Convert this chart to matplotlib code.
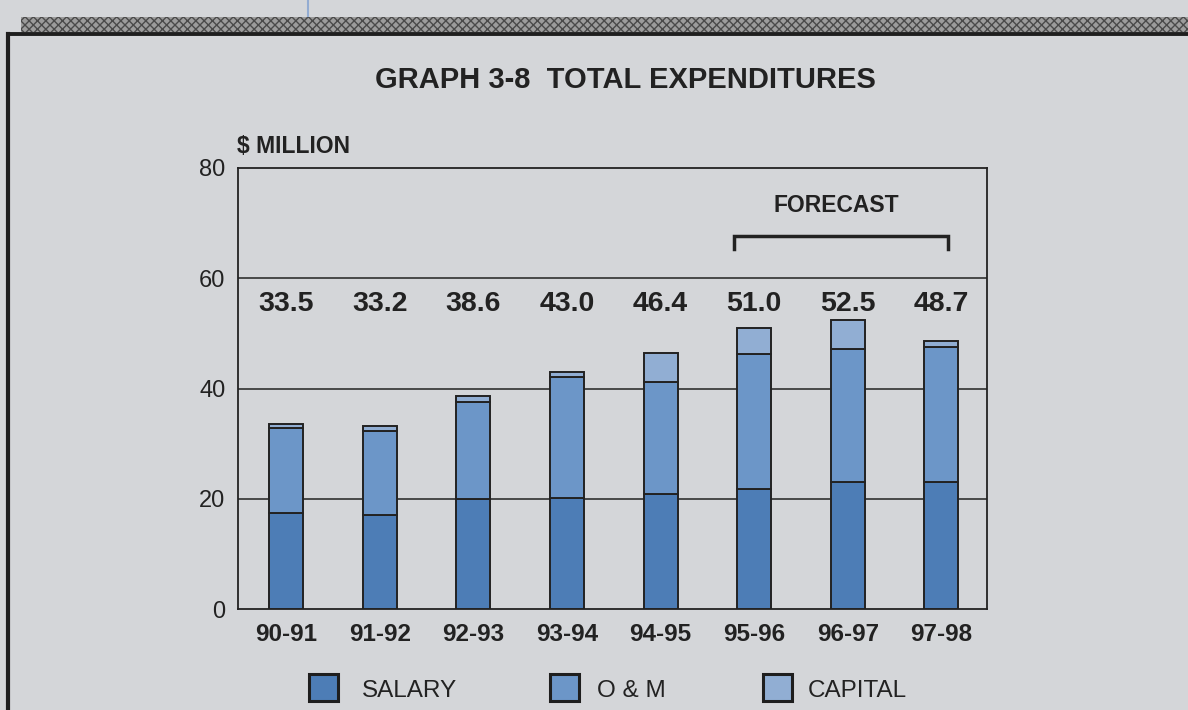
#!/usr/bin/env python3
"""Graph 3-8 total expenditures: stacked bars, salary / O&M / capital."""
import matplotlib

matplotlib.use("Agg")
import matplotlib.pyplot as plt
from matplotlib.patches import Rectangle
from matplotlib.lines import Line2D

plt.rcParams["font.family"] = ["Liberation Sans", "DejaVu Sans"]

# data ($ million)
years = ["90-91", "91-92", "92-93", "93-94", "94-95", "95-96", "96-97", "97-98"]
salary = [17.4, 17.1, 20.0, 20.2, 20.9, 21.7, 23.0, 23.0]
o_and_m = [15.4, 15.1, 17.6, 21.9, 20.3, 24.5, 24.2, 24.5]
capital = [0.7, 1.0, 1.0, 0.9, 5.2, 4.8, 5.3, 1.2]
totals = [33.5, 33.2, 38.6, 43.0, 46.4, 51.0, 52.5, 48.7]
forecast_years = ["95-96", "96-97", "97-98"]
series_names = ["SALARY", "O & M", "CAPITAL"]
yticks = [0, 20, 40, 60, 80]

BG = "#d4d6d9"
INK = "#222222"
colors = ["#4d7db6", "#6c96c8", "#91aed3"]

W, H = 1188, 710
fig = plt.figure(figsize=(W / 100, H / 100), dpi=100, facecolor=BG)

# page furniture: frame, hatched stripe, blue line at top
fig.patches.append(Rectangle((21 / W, 1 - 32 / H), 1, 15 / H, transform=fig.transFigure,
                             facecolor="#9c9c9c", edgecolor="#4a4a4a", hatch="xxxx",
                             linewidth=0))
fig.add_artist(Line2D([8 / W, 8 / W], [0, 1 - 34 / H], transform=fig.transFigure,
                      color="#1e1e1e", lw=3))
fig.add_artist(Line2D([8 / W, 1], [1 - 34 / H, 1 - 34 / H], transform=fig.transFigure,
                      color="#1e1e1e", lw=2.8))
fig.add_artist(Line2D([308 / W, 308 / W], [1 - 16 / H, 1], transform=fig.transFigure,
                      color="#93acd2", lw=1.5))

ax = fig.add_axes([238 / W, 101 / H, 749 / W, 441 / H])
ax.set_facecolor(BG)

x = list(range(len(years)))
bw = 0.363
base2 = [s + o for s, o in zip(salary, o_and_m)]
ax.bar(x, salary, bw, color=colors[0], edgecolor=INK, lw=1.4, zorder=3)
ax.bar(x, o_and_m, bw, bottom=salary, color=colors[1], edgecolor=INK, lw=1.4, zorder=3)
ax.bar(x, capital, bw, bottom=base2, color=colors[2], edgecolor=INK, lw=1.4, zorder=3)

for yv in yticks[1:-1]:
    ax.axhline(yv, color=INK, lw=1.1, zorder=1)

for xi, t in zip(x, totals):
    ax.text(xi, 54.0, f"{t:.1f}", ha="center", va="baseline", fontsize=20.5,
            fontweight="bold", color=INK)

# forecast bracket
f0 = years.index(forecast_years[0]) - 0.22
f1 = years.index(forecast_years[-1]) + 0.07
ax.plot([f0, f0, f1, f1], [65.3, 67.6, 67.6, 65.3], color=INK, lw=2.5,
        solid_joinstyle="miter", zorder=4)
ax.text((f0 + f1) / 2 - 0.05, 72.0, "FORECAST", ha="center", va="baseline",
        fontsize=16.5, fontweight="bold", color=INK)

ax.set_xlim(-0.513, 7.486)
ax.set_ylim(0, 80)
ax.set_yticks(yticks)
ax.set_yticklabels([str(v) for v in yticks], fontsize=17, color=INK)
ax.set_xticks(x)
ax.set_xticklabels(years, fontsize=17.5, fontweight="bold", color=INK)
ax.tick_params(axis="both", length=0)
ax.tick_params(axis="y", pad=9)
ax.tick_params(axis="x", pad=10)
for sp in ax.spines.values():
    sp.set_color(INK)
    sp.set_linewidth(1.3)

fig.text(375 / W, 1 - 88 / H, "GRAPH 3-8  TOTAL EXPENDITURES", ha="left", va="baseline",
         fontsize=21, fontweight="bold", color=INK)
fig.text(237 / W, 1 - 153 / H, "$ MILLION", ha="left", va="baseline",
         fontsize=16.5, fontweight="bold", color=INK)

# legend drawn by hand to match the boxed squares
sq_x = [309, 550, 763]
txt_x = [362, 597, 808]
for name, c, sx, tx in zip(series_names, colors, sq_x, txt_x):
    fig.patches.append(Rectangle((sx / W, 1 - 701 / H), 29 / W, 27 / H,
                                 transform=fig.transFigure, facecolor=c,
                                 edgecolor="#1e1e1e", lw=2.2))
    fig.text(tx / W, 1 - 697 / H, name, ha="left", va="baseline", fontsize=17.5,
             color=INK)

fig.savefig("out.png", dpi=100, facecolor=BG)
